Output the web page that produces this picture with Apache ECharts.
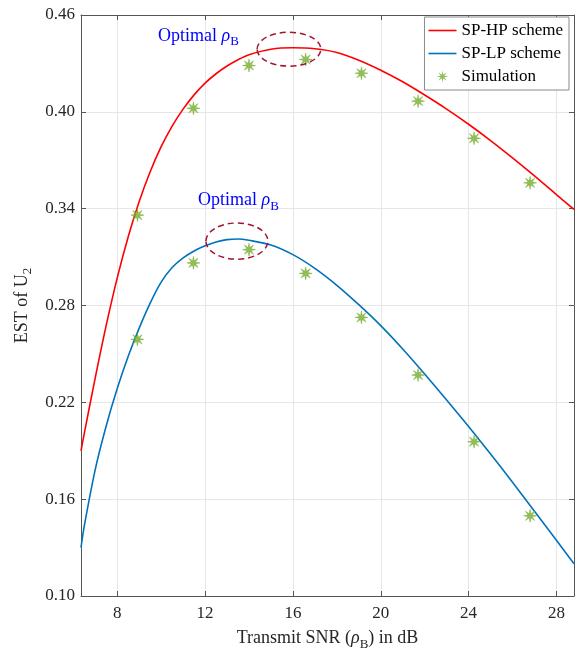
<!DOCTYPE html>
<html>
<head>
<meta charset="utf-8">
<script src="https://cdn.jsdelivr.net/npm/echarts@6/dist/echarts.min.js"></script>
<style>
  html, body { margin: 0; padding: 0; background: #fff; }
  #main { width: 581px; height: 656px; }
</style>
</head>
<body>
<div id="main"></div>
<script>
// curve samples (Transmit SNR in dB)
var curveX = [6.35, 6.5, 7, 7.5, 8, 8.5, 9, 9.5, 10, 10.5, 11, 11.5, 12, 12.5, 13, 13.5, 14,
              15, 16, 17, 18, 19, 20, 21, 22, 23, 24, 25, 26, 27, 28, 28.8];
var hpCurve = [0.190, 0.2008, 0.2353, 0.2678, 0.2971, 0.3226, 0.3444, 0.3629, 0.3784, 0.3912, 0.4017, 0.4105, 0.4178, 0.4236, 0.4284, 0.4323, 0.4354,
               0.4388, 0.4397, 0.4391, 0.4368, 0.4320, 0.4258, 0.4186, 0.4104, 0.4017, 0.3923, 0.3822, 0.3715, 0.3603, 0.3487, 0.3395];
var lpCurve = [0.130, 0.1435, 0.1785, 0.2055, 0.2285, 0.2485, 0.2660, 0.2815, 0.2945, 0.3035, 0.3095, 0.3138, 0.3170, 0.3194, 0.3208, 0.3212, 0.3204,
               0.3175, 0.3115, 0.3030, 0.2925, 0.2805, 0.2675, 0.2530, 0.2375, 0.2215, 0.2050, 0.1880, 0.1705, 0.1525, 0.1345, 0.1200];

// simulation points
var simX = [8.92, 11.47, 14.0, 16.58, 19.12, 21.7, 24.25, 26.8];
var hpSim = [0.336, 0.4022, 0.4287, 0.4324, 0.4239, 0.4066, 0.3836, 0.356];
var lpSim = [0.259, 0.3064, 0.3146, 0.2999, 0.2726, 0.2369, 0.1956, 0.1497];

// annotations: [x, y, halfWidth, halfHeight] in data units
var optimalMarks = [[15.82, 0.4388, 1.45, 0.0105], [13.45, 0.3199, 1.41, 0.0112]];
var optimalLabels = [[9.86, 0.447], [11.68, 0.345]];

var xTicks = [8, 12, 16, 20, 24, 28];
var yTicks = [0.10, 0.16, 0.22, 0.28, 0.34, 0.40, 0.46];

function pairs(xs, ys) {
    var out = [];
    for (var i = 0; i < xs.length; i++) out.push([xs[i], ys[i]]);
    return out;
}

// 8 spoke asterisk like matlab '*'
function starPath(R, inner, boxW, boxH) {
    var d = '';
    for (var k = 0; k < 16; k++) {
        var a = (k * 22.5 - 90) * Math.PI / 180;
        var r = k % 2 == 0 ? R : inner;
        d += (k == 0 ? 'M' : 'L') + (r * Math.cos(a)).toFixed(3) + ',' + (r * Math.sin(a)).toFixed(3);
    }
    d += 'Z';
    if (boxW) {
        // empty corner points so the legend keeps the star small
        d += 'M' + (-boxW / 2) + ',' + (-boxH / 2) + 'Z M' + (boxW / 2) + ',' + (boxH / 2) + 'Z';
    }
    return 'path://' + d;
}
var STAR = starPath(10, 3.4);
var STAR_ICON = starPath(6, 2.0, 28, 12);
var LINE_ICON = 'path://M0,0H28V1.6H0Z';

var FONT = '"Liberation Serif", "Times New Roman", serif';
var AX = '#555';
var subRich = {
    i: { fontFamily: FONT, fontStyle: 'italic', fontSize: 18, color: '#262626' },
    sub: { fontFamily: FONT, fontSize: 13, color: '#262626', padding: [12, 0, 0, 0] },
    t: { fontFamily: FONT, fontSize: 18, color: '#262626' }
};

var myChart = echarts.init(document.getElementById('main'));
var option = {
    animation: false,
    backgroundColor: '#fff',
    grid: { left: 81, right: 7, top: 15, bottom: 60, show: false },
    legend: {
        right: 12, top: 17,
        orient: 'vertical',
        backgroundColor: '#fff',
        borderColor: '#8a8a8a',
        borderWidth: 1,
        padding: [5, 6, 5, 4],
        itemGap: 6,
        itemWidth: 28,
        itemHeight: 12,
        textStyle: { fontFamily: FONT, fontSize: 17, color: '#000' },
        data: [{ name: 'SP-HP scheme', icon: LINE_ICON }, { name: 'SP-LP scheme', icon: LINE_ICON },
               { name: 'Simulation', icon: STAR_ICON, itemStyle: { borderWidth: 0 } }]
    },
    xAxis: [{
        type: 'value', min: 6.35, max: 28.8,
        name: '{t|Transmit SNR (}{i|ρ}{sub|B}{t|) in dB}',
        nameLocation: 'middle', nameGap: 30,
        nameTextStyle: { rich: subRich },
        axisLine: { show: true, lineStyle: { color: AX } },
        axisTick: { show: true, inside: true, length: 5, customValues: xTicks, lineStyle: { color: AX } },
        axisLabel: { customValues: xTicks, fontFamily: FONT, fontSize: 17, color: '#262626', margin: 9 },
        splitLine: { show: true, lineStyle: { color: '#e6e6e6' } }
    }, {
        type: 'value', min: 6.35, max: 28.8, position: 'top',
        axisLine: { show: true, lineStyle: { color: AX } },
        axisTick: { show: true, inside: true, length: 5, customValues: xTicks, lineStyle: { color: AX } },
        axisLabel: { show: false },
        splitLine: { show: false }
    }],
    yAxis: [{
        type: 'value', min: 0.10, max: 0.46,
        name: '{t|EST of U}{sub|2}',
        nameLocation: 'middle', nameGap: 44,
        nameTextStyle: { rich: subRich },
        axisLine: { show: true, lineStyle: { color: AX } },
        axisTick: { show: true, inside: true, length: 5, customValues: yTicks, lineStyle: { color: AX } },
        axisLabel: {
            customValues: yTicks, fontFamily: FONT, fontSize: 17, color: '#262626', margin: 6,
            formatter: function (v) { return v.toFixed(2); }
        },
        splitLine: { show: true, lineStyle: { color: '#e6e6e6' } }
    }, {
        type: 'value', min: 0.10, max: 0.46, position: 'right',
        axisLine: { show: true, lineStyle: { color: AX } },
        axisTick: { show: true, inside: true, length: 5, customValues: yTicks, lineStyle: { color: AX } },
        axisLabel: { show: false },
        splitLine: { show: false }
    }],
    series: [
        {
            name: 'SP-HP scheme', type: 'line', smooth: 0.3, symbol: 'none',
            lineStyle: { color: '#ff0000', width: 1.6 }, itemStyle: { color: '#ff0000' },
            data: pairs(curveX, hpCurve)
        },
        {
            name: 'SP-LP scheme', type: 'line', smooth: 0.3, symbol: 'none',
            lineStyle: { color: '#0072BD', width: 1.6 }, itemStyle: { color: '#0072BD' },
            data: pairs(curveX, lpCurve)
        },
        {
            name: 'Simulation', type: 'scatter', symbol: STAR, symbolSize: 13,
            itemStyle: { color: '#77AC30', borderColor: '#77AC30', borderWidth: 0.6 }, z: 5,
            data: pairs(simX, hpSim).concat(pairs(simX, lpSim))
        },
        {
            type: 'custom', silent: true, clip: false, z: 6,
            data: optimalMarks,
            renderItem: function (params, api) {
                var c = api.coord([api.value(0), api.value(1)]);
                var s = api.size([api.value(2), api.value(3)], [api.value(0), api.value(1)]);
                return {
                    type: 'ellipse',
                    shape: { cx: c[0], cy: c[1], rx: s[0], ry: s[1] },
                    style: { fill: null, stroke: '#A2142F', lineWidth: 1.5, lineDash: [6, 4] }
                };
            }
        },
        {
            type: 'custom', silent: true, clip: false, z: 6,
            data: optimalLabels,
            renderItem: function (params, api) {
                var c = api.coord([api.value(0), api.value(1)]);
                return {
                    type: 'text', x: c[0], y: c[1],
                    style: {
                        text: '{t|Optimal }{i|ρ}{sub|B}',
                        verticalAlign: 'middle', align: 'left',
                        rich: {
                            t: { fontFamily: FONT, fontSize: 18, fill: '#0000ff' },
                            i: { fontFamily: FONT, fontSize: 18, fontStyle: 'italic', fill: '#0000ff' },
                            sub: { fontFamily: FONT, fontSize: 13, fill: '#0000ff', padding: [12, 0, 0, 0] }
                        }
                    }
                };
            }
        }
    ]
};
myChart.setOption(option);
</script>
</body>
</html>
